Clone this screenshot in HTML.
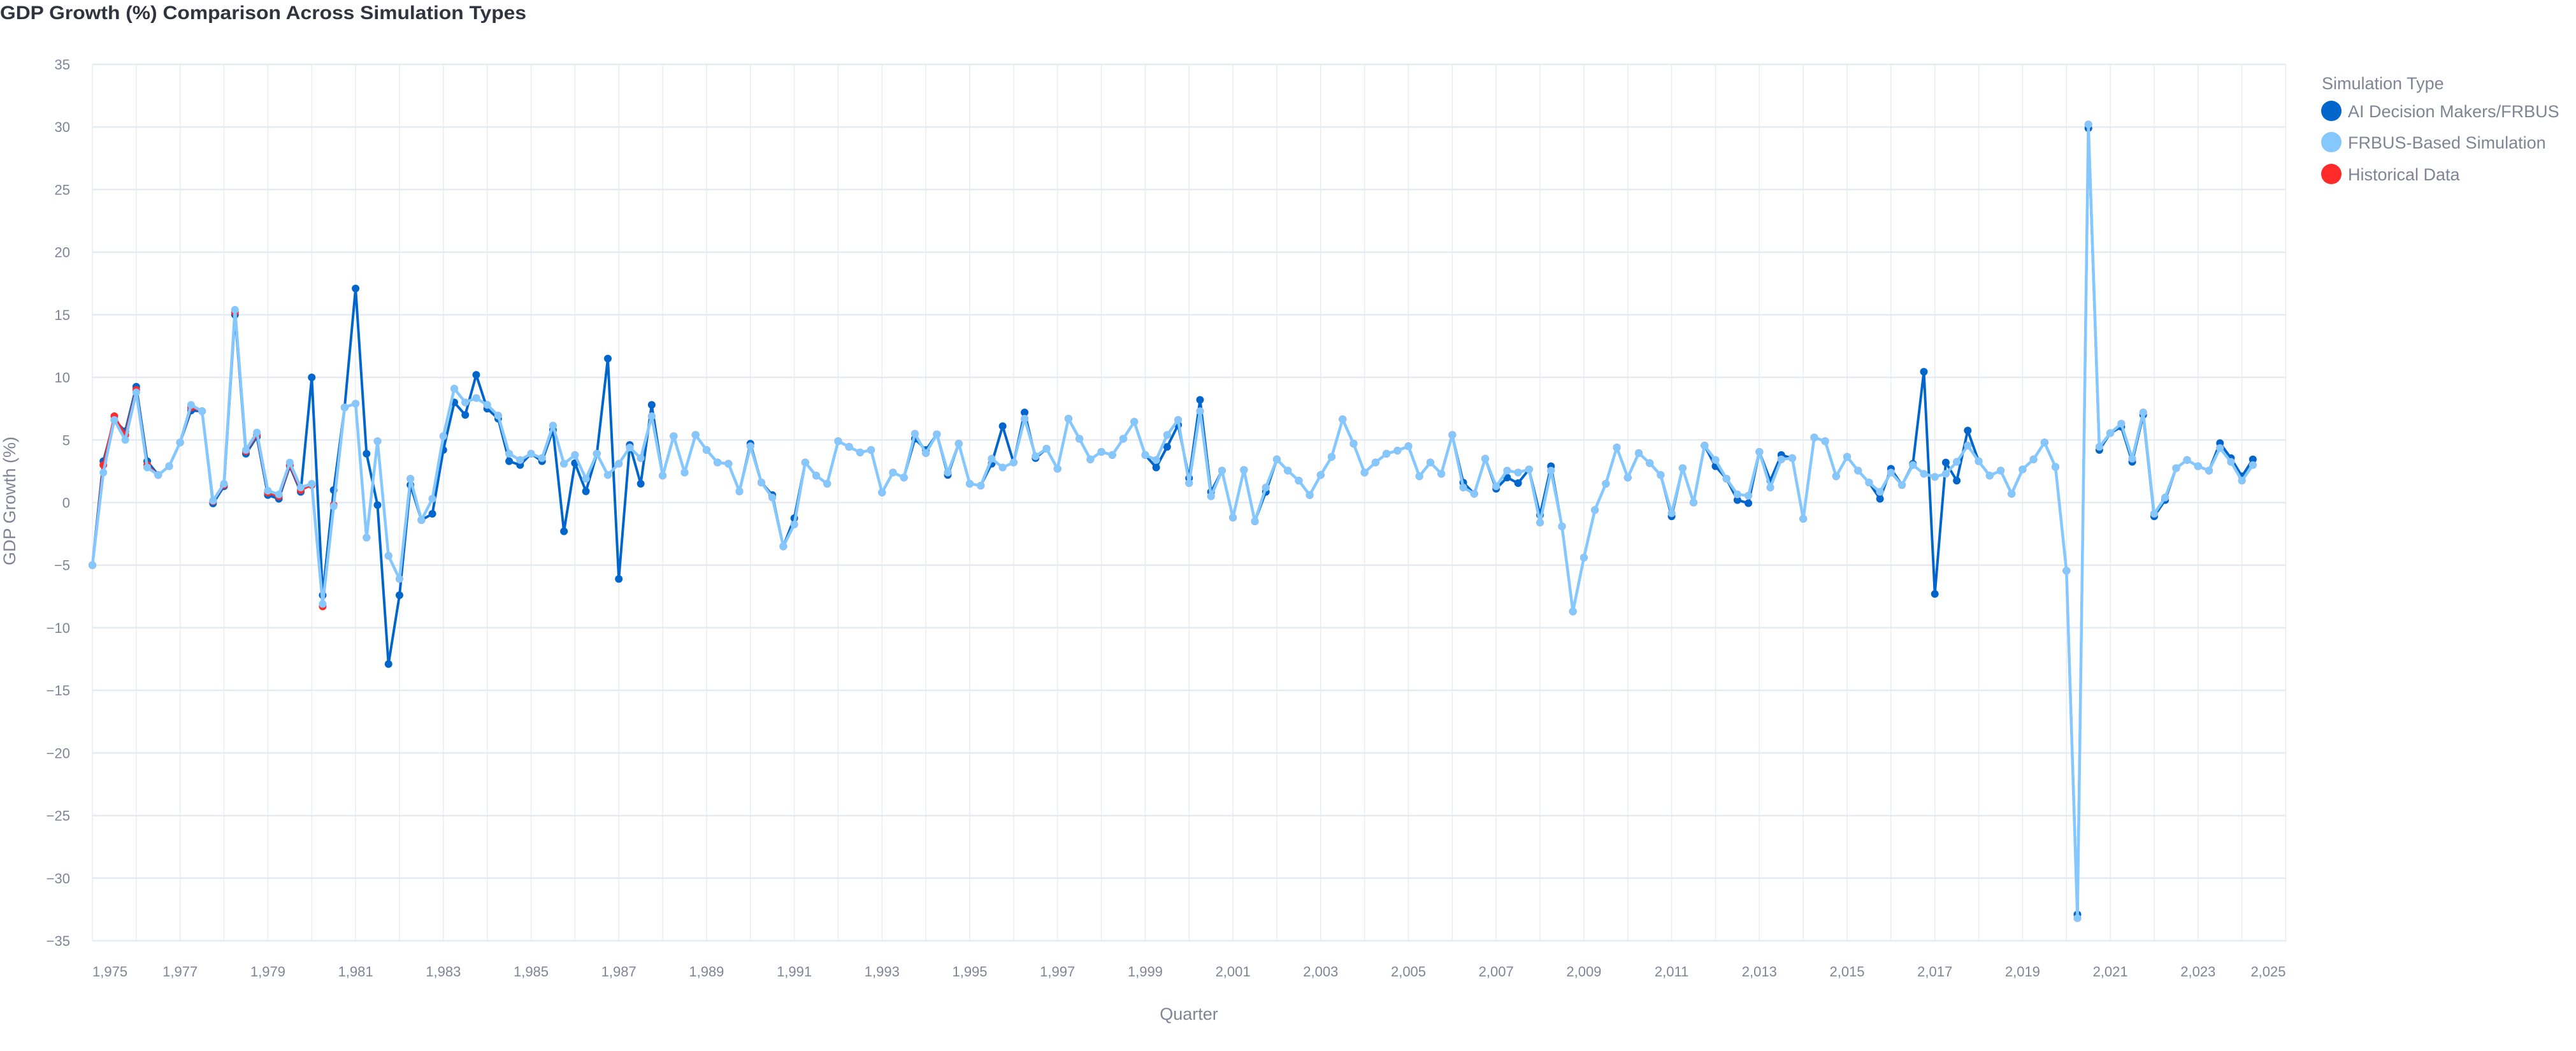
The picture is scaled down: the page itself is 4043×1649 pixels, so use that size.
<!DOCTYPE html>
<html><head><meta charset="utf-8"><style>
html,body{margin:0;padding:0;background:#fff;}
svg{display:block;font-family:"Liberation Sans",sans-serif;}
</style></head><body>
<svg id="chart" width="4043" height="1649" viewBox="0 0 4043 1649" xmlns="http://www.w3.org/2000/svg">
<text x="0" y="30" font-size="30" font-weight="bold" fill="#31333f" textLength="826" lengthAdjust="spacingAndGlyphs">GDP Growth (%) Comparison Across Simulation Types</text>
<g id="grid"></g>
<g id="yticks"></g>
<g id="xticks"></g>
<g id="series"></g>
<text x="1866" y="1600" font-size="27" fill="#808495" text-anchor="middle">Quarter</text>
<text transform="translate(24,786) rotate(-90)" font-size="27" fill="#808495" text-anchor="middle">GDP Growth (%)</text>
<g>
<text x="3644" y="140" font-size="27" fill="#808495">Simulation Type</text>
<g><circle cx="3659" cy="174" r="16" fill="#0066cc"/><text x="3685" y="184" font-size="27" fill="#808495">AI Decision Makers/FRBUS</text></g>
<g><circle cx="3659" cy="223" r="16" fill="#85c7ff"/><text x="3685" y="233" font-size="27" fill="#808495">FRBUS-Based Simulation</text></g>
<g><circle cx="3659" cy="273" r="16" fill="#ff2b2b"/><text x="3685" y="283" font-size="27" fill="#808495">Historical Data</text></g>
</g>
</svg>
<script>
const startYear = 1975;
const yTickValues = [35,30,25,20,15,10,5,0,-5,-10,-15,-20,-25,-30,-35];
const xTickYears = [1975,1977,1979,1981,1983,1985,1987,1989,1991,1993,1995,1997,1999,2001,2003,2005,2007,2009,2011,2013,2015,2017,2019,2021,2023,2025];
const xTickLabels = ["1,975","1,977","1,979","1,981","1,983","1,985","1,987","1,989","1,991","1,993","1,995","1,997","1,999","2,001","2,003","2,005","2,007","2,009","2,011","2,013","2,015","2,017","2,019","2,021","2,023","2,025"];
const frbusValues = [-5.0,2.4,6.6,5.0,8.8,2.8,2.2,2.9,4.8,7.8,7.3,0.15,1.5,15.4,4.2,5.6,0.95,0.65,3.2,1.2,1.5,-8.1,-0.3,7.6,7.9,-2.8,4.9,-4.25,-6.1,1.9,-1.4,0.3,5.3,9.1,8.0,8.35,7.8,6.95,3.9,3.4,3.9,3.55,
6.15,3.1,3.8,1.9,3.9,2.2,3.1,4.4,3.55,6.9,2.15,5.3,2.4,5.4,4.2,3.2,3.1,0.9,4.5,1.6,0.4,-3.5,-1.75,3.2,2.15,1.5,4.9,4.45,4.0,4.2,0.8,2.4,2.0,5.5,3.95,5.45,2.4,4.7,1.5,1.35,3.5,
2.8,3.2,6.7,3.7,4.3,2.7,6.7,5.1,3.45,4.05,3.8,5.1,6.45,3.8,3.4,5.4,6.6,1.55,7.3,0.5,2.55,-1.2,2.6,-1.5,1.2,3.45,2.55,1.75,0.6,2.2,3.65,6.65,4.7,2.4,3.2,3.9,4.15,4.5,2.1,3.2,2.3,5.4,
1.2,0.7,3.5,1.3,2.55,2.4,2.65,-1.6,2.55,-1.9,-8.7,-4.4,-0.6,1.5,4.4,2.0,3.95,3.15,2.2,-0.85,2.75,0.0,4.55,3.4,1.9,0.65,0.55,4.05,1.2,3.45,3.55,-1.3,5.2,4.9,2.1,3.65,2.55,1.6,0.85,2.4,1.4,
3.0,2.3,2.05,2.3,3.25,4.55,3.3,2.15,2.55,0.7,2.65,3.45,4.8,2.85,-5.45,-33.2,30.2,4.45,5.55,6.3,3.5,7.2,-0.9,0.4,2.75,3.4,2.9,2.55,4.35,3.25,1.75,3.0];
const aiValues = [-5.0,3.3,6.6,5.7,9.25,3.3,2.2,2.9,4.8,7.35,7.3,-0.07,1.3,15.0,3.9,5.25,0.6,0.3,2.9,0.85,10.0,-7.4,1.0,7.6,17.1,3.9,-0.2,-12.9,-7.4,1.4,-1.4,-0.9,4.2,8.0,7.0,10.2,7.5,6.7,3.3,3.0,3.9,3.3,
5.8,-2.3,3.15,0.9,3.9,11.5,-6.1,4.6,1.5,7.8,2.15,5.3,2.4,5.4,4.2,3.2,3.1,0.9,4.7,1.6,0.6,-3.5,-1.25,3.2,2.15,1.5,4.9,4.45,4.0,4.2,0.8,2.4,2.0,5.1,4.2,5.45,2.2,4.7,1.5,1.35,3.1,
6.1,3.2,7.2,3.55,4.3,2.7,6.7,5.1,3.45,4.05,3.8,5.1,6.45,3.8,2.8,4.45,6.2,1.95,8.2,0.85,2.55,-1.2,2.6,-1.5,0.85,3.45,2.55,1.75,0.6,2.2,3.65,6.65,4.7,2.4,3.2,3.9,4.15,4.5,2.1,3.2,2.3,5.4,
1.6,0.7,3.5,1.1,2.0,1.55,2.65,-1.0,2.9,-1.9,-8.7,-4.4,-0.6,1.5,4.4,2.0,3.95,3.15,2.2,-1.1,2.75,0.0,4.55,2.9,1.9,0.2,-0.05,4.05,1.75,3.8,3.55,-1.3,5.2,4.9,2.1,3.65,2.55,1.6,0.3,2.7,1.4,
3.1,10.45,-7.3,3.2,1.75,5.75,3.3,2.15,2.55,0.7,2.65,3.45,4.8,2.85,-5.45,-32.9,29.9,4.2,5.55,6.05,3.25,7.0,-1.1,0.2,2.75,3.4,2.9,2.55,4.75,3.55,2.1,3.45];
const historicalValues = [-5.0,3.0,6.9,5.4,9.0,3.0,2.2,2.9,4.8,7.6,7.3,0.1,1.4,15.2,4.1,5.4,0.8,0.5,3.0,1.0,1.4,-8.3,-0.2,7.6,7.9,-2.8,4.9,-4.25,-6.1,1.9,-1.4,0.3,5.3,9.1,8.0,8.35,7.8,6.95,3.9,3.4,3.9,3.55,
6.15,3.1,3.8,1.9,3.9,2.2,3.1,4.4,3.55,6.9,2.15,5.3,2.4,5.4,4.2,3.2,3.1,0.9,4.5,1.6,0.4,-3.5,-1.75,3.2,2.15,1.5,4.9,4.45,4.0,4.2,0.8,2.4,2.0,5.5,3.95,5.45,2.4,4.7,1.5,1.35,3.5,
2.8,3.2,6.7,3.7,4.3,2.7,6.7,5.1,3.45,4.05,3.8,5.1,6.45,3.8,3.4,5.4,6.6,1.55,7.3,0.5,2.55,-1.2,2.6,-1.5,1.2,3.45,2.55,1.75,0.6,2.2,3.65,6.65,4.7,2.4,3.2,3.9,4.15,4.5,2.1,3.2,2.3,5.4,
1.2,0.7,3.5,1.3,2.55,2.4,2.65,-1.6,2.55,-1.9,-8.7,-4.4,-0.6,1.5,4.4,2.0,3.95,3.15,2.2,-0.85,2.75,0.0,4.55,3.4,1.9,0.65,0.55,4.05,1.2,3.45,3.55,-1.3,5.2,4.9,2.1,3.65,2.55,1.6,0.85,2.4,1.4,
3.0,2.3,2.05,2.3,3.25,4.55,3.3,2.15,2.55,0.7,2.65,3.45,4.8,2.85,-5.45,-33.2,30.2,4.45,5.55,6.3,3.5,7.2,-0.9,0.4,2.75,3.4,2.9,2.55,4.35,3.25,1.75,3.0];

const NS = "http://www.w3.org/2000/svg";
const PL = 145, PR = 3587.5, PT = 101, PB = 1476;
const xMin = 1975, xMax = 2025, yMin = -35, yMax = 35;
function xScale(t){ return PL + (t - xMin) / (xMax - xMin) * (PR - PL); }
function yScale(v){ return PB - (v - yMin) / (yMax - yMin) * (PB - PT); }
function mk(tag, attrs, parent){ const e = document.createElementNS(NS, tag); for (const k in attrs) e.setAttribute(k, attrs[k]); parent.appendChild(e); return e; }

const grid = document.getElementById('grid');
for (let yr = xMin; yr <= xMax; yr++) {
  const gl = mk('line', {x1: xScale(yr), x2: xScale(yr), y1: PT, y2: PB, stroke: '#e9ecf2', 'stroke-width': 1.5}, grid);
  
  
}
const yt = document.getElementById('yticks');
yTickValues.forEach(v => {
  const gl = mk('line', {x1: PL, x2: PR, y1: yScale(v), y2: yScale(v), stroke: '#e6eaf1', 'stroke-width': 2.5}, grid);
  
  
  const t = mk('text', {x: 110, y: yScale(v) + 8, 'font-size': 22, fill: '#808495', 'text-anchor': 'end'}, yt);
  
  
  t.textContent = String(v).replace('-', '\u2212');
});
const xt = document.getElementById('xticks');
xTickYears.forEach((yr, i) => {
  let anchor = 'middle';
  if (yr === xMin) anchor = 'start';
  if (yr === xMax) anchor = 'end';
  const t = mk('text', {x: xScale(yr), y: 1532, 'font-size': 22, fill: '#808495', 'text-anchor': anchor}, xt);
  
  
  t.textContent = xTickLabels[i];
});

const seriesLayer = document.getElementById('series');
function drawSeries(values, color, lw, r, name) {
  const g = mk('g', {}, seriesLayer);
  
  
  const pts = values.map((v, i) => xScale(startYear + i / 4).toFixed(1) + ',' + yScale(v).toFixed(1));
  const pl = mk('polyline', {points: pts.join(' '), fill: 'none', stroke: color, 'stroke-width': lw, 'stroke-linejoin': 'round'}, g);
  
  
  values.forEach((v, i) => {
    const c = mk('circle', {cx: xScale(startYear + i / 4), cy: yScale(v), r: r, fill: color}, g);
    
    
  });
}
drawSeries(aiValues, '#0066cc', 4, 6, 'ai-decision-makers');
drawSeries(historicalValues, '#ff2b2b', 3.5, 6, 'historical-data');
drawSeries(frbusValues, '#85c7ff', 4.5, 6, 'frbus-simulation');
</script>
</body></html>
